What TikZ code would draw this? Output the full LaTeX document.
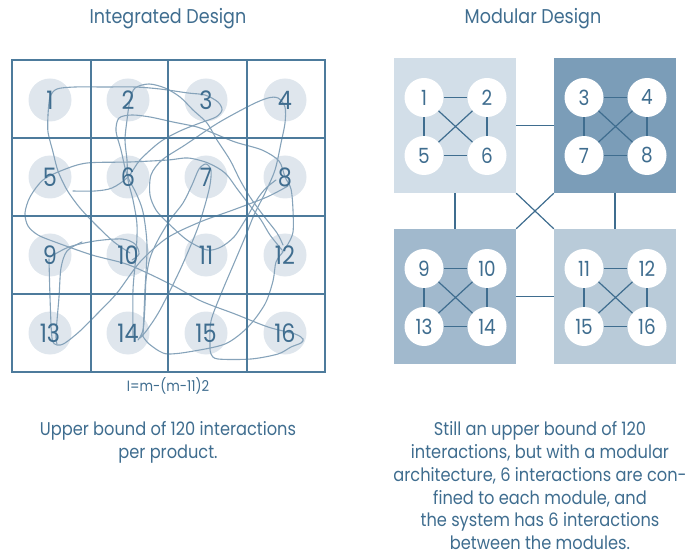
\documentclass[tikz,border=0pt]{standalone}
\usepackage{fontspec}
\setmainfont{Poppins}[FakeStretch=0.88]
\definecolor{ink}{HTML}{3F6D8F}
\definecolor{gridc}{HTML}{4D7B9C}
\definecolor{scribc}{HTML}{86A3BA}
\definecolor{dotc}{HTML}{DFE6ED}
\definecolor{modA}{HTML}{D2DEE8}
\definecolor{modB}{HTML}{7B9DB8}
\definecolor{modC}{HTML}{A1B9CD}
\definecolor{modD}{HTML}{B9CBD9}
\tikzset{
  gridline/.style={draw=gridc, line width=1.5bp},
  scrib/.style={draw=scribc, line width=1.1bp, line cap=round},
  gdot/.style={circle, fill=dotc, minimum size=43bp, inner sep=0pt},
  gnum/.style={text=ink, font=\fontsize{25.5}{25.5}\selectfont, inner sep=0pt},
  modbox/.style={minimum width=122bp, minimum height=135bp, inner sep=0pt},
  mcirc/.style={circle, fill=white, minimum size=39bp, inner sep=0pt, text=ink, font=\fontsize{21}{21}\selectfont},
  medge/.style={draw=ink, line width=1.2bp},
  title/.style={text=ink, font=\fontsize{20}{20}\selectfont, inner sep=0pt},
  caption/.style={text=ink, font=\fontsize{18.5}{23}\selectfont, align=center, inner sep=0pt},
}
\begin{document}
\begin{tikzpicture}[x=1bp, y=-1bp]
\useasboundingbox (0,0) rectangle (699,559);

% titles
\node[title] (t1) at (168,19) {Integrated Design};
\node[title] (t2) at (533,19) {Modular Design};

% ---------- integrated design: 4x4 grid ----------
\foreach \n/\x/\y in {1/50/100,2/128/100,3/206/100,4/285/100,
                      5/50/177,6/128/177,7/206/177,8/285/177,
                      9/50/255,10/128/255,11/206/255,12/285/255,
                      13/50/333,14/128/333,15/206/333,16/285/333}
  \node[gdot] (d\n) at (\x,\y) {};

% interaction scribble
\draw[scrib] plot[smooth] coordinates {(48,115) (50,97) (57,89) (75,87) (105,87) (135,87) (160,89) (188,93) (205,95) (218,102) (222,110) (216,117) (200,123) (180,131) (160,142) (140,160) (128,177) (112,188) (95,191) (73,191)};
\draw[scrib] plot[smooth] coordinates {(48,115) (48,132) (53,152) (58,171) (67,190) (80,208) (97,226) (114,242) (130,253)};
\draw[scrib] plot[smooth] coordinates {(50,257) (69,247) (95,241) (122,239) (135,244) (139,254) (132,260)};
\draw[scrib] plot[smooth] coordinates {(49,259) (50,297) (52,338) (57,345) (65,343) (80,331) (97,314) (117,293) (140,262) (167,238) (200,222) (233,210) (267,197) (288,186)};
\draw[scrib] plot[smooth] coordinates {(82,242) (67,251) (61,268) (59,297) (56,334) (57,344)};
\draw[scrib] plot[smooth] coordinates {(140,338) (147,330) (160,310) (180,270) (197,230) (205,205) (210,185) (211,170) (206,164) (199,169) (192,185) (183,203) (170,220) (158,240) (150,258) (146,280) (145,305) (143,330) (138,340)};
\draw[scrib] plot[smooth] coordinates {(133,336) (133,290) (136,255) (137,225) (133,200) (128,180) (127,160) (125,140) (127,120) (130,100) (135,88) (149,84) (165,88) (180,97) (193,110) (207,123) (217,140) (230,160) (240,180) (250,197) (263,215) (277,233) (283,245)};
\draw[scrib] plot[smooth] coordinates {(143,336) (145,290) (147,245) (143,212) (136,193) (127,175) (121,150) (116,131) (119,118) (132,115) (150,117) (173,122) (197,127) (213,133) (235,142) (262,150) (279,161) (285,177) (291,189) (293,210) (293,232) (288,244) (282,252)};
\draw[scrib] plot[smooth] coordinates {(282,250) (270,235) (261,220) (251,207) (238,190) (225,173) (208,163) (188,158) (168,160) (130,162) (87,163) (63,170) (43,180) (30,197) (25,213) (28,226) (38,235) (55,242) (92,255) (129,265) (172,285) (201,301) (235,314) (268,327) (295,334) (303,339) (301,343) (291,347) (278,354) (251,359) (218,359) (211,354) (210,345) (211,321) (221,294) (235,261) (246,235) (254,215) (265,193) (275,170) (281,143) (285,123) (285,107) (278,98) (268,98) (251,105) (218,123) (185,145) (162,160) (151,175) (150,195) (156,210) (167,222) (187,240) (207,250) (221,247) (234,237) (244,222) (251,210) (258,198) (266,188) (276,180)};
\draw[scrib] plot[smooth] coordinates {(283,252) (276,262) (273,281) (265,304) (248,327) (225,344) (188,352) (168,354) (159,351) (148,343) (142,335)};

% grid lines
\draw[gridline] (12,60) rectangle (325,372);
\foreach \x in {91,168,247} \draw[gridline] (\x,60) -- (\x,372);
\foreach \y in {138,216,294} \draw[gridline] (12,\y) -- (325,\y);

% element numbers
\foreach \n in {1,...,16}
  \node[gnum] (n\n) at (d\n) {\n};

% ---------- modular design ----------
\node[modbox, fill=modA] (mA) at (455,125.5) {};
\node[modbox, fill=modB] (mB) at (615,125.5) {};
\node[modbox, fill=modC] (mC) at (455,296.5) {};
\node[modbox, fill=modD] (mD) at (615,296.5) {};

% interactions between modules
\draw[medge] (mA.east) -- (mB.west);
\draw[medge] (mC.east) -- (mD.west);
\draw[medge] (mA.south) -- (mC.north);
\draw[medge] (mB.south) -- (mD.north);
\draw[medge] (mA.south east) -- (mD.north west);
\draw[medge] (mB.south west) -- (mC.north east);

% elements inside each module
\foreach \a/\b/\c/\d/\cx/\cy in {1/2/5/6/455/125.5, 3/4/7/8/615/125.5,
                                 9/10/13/14/455/296.5, 11/12/15/16/615/296.5}{
  \node[mcirc] (m\a) at (\cx-31,\cy-28) {\a};
  \node[mcirc] (m\b) at (\cx+32,\cy-28) {\b};
  \node[mcirc] (m\c) at (\cx-31,\cy+30) {\c};
  \node[mcirc] (m\d) at (\cx+32,\cy+30) {\d};
  \draw[medge] (m\a) -- (m\b);
  \draw[medge] (m\c) -- (m\d);
  \draw[medge] (m\a) -- (m\c);
  \draw[medge] (m\b) -- (m\d);
  \draw[medge] (m\a) -- (m\d);
  \draw[medge] (m\b) -- (m\c);
}

% captions
\node[text=ink, font=\fontsize{15}{15}\selectfont, inner sep=0pt] (f1) at (168,386) {I=m-(m-11)2};
\node[caption, anchor=north] (c1) at (168,421) {Upper bound of 120 interactions\\per product.};
\node[caption, anchor=north] (c2) at (540,421) {Still an upper bound of 120\\interactions, but with a modular\\architecture, 6 interactions are con-\\fined to each module, and\\the system has 6 interactions\\between the modules.};
\end{tikzpicture}
\end{document}
